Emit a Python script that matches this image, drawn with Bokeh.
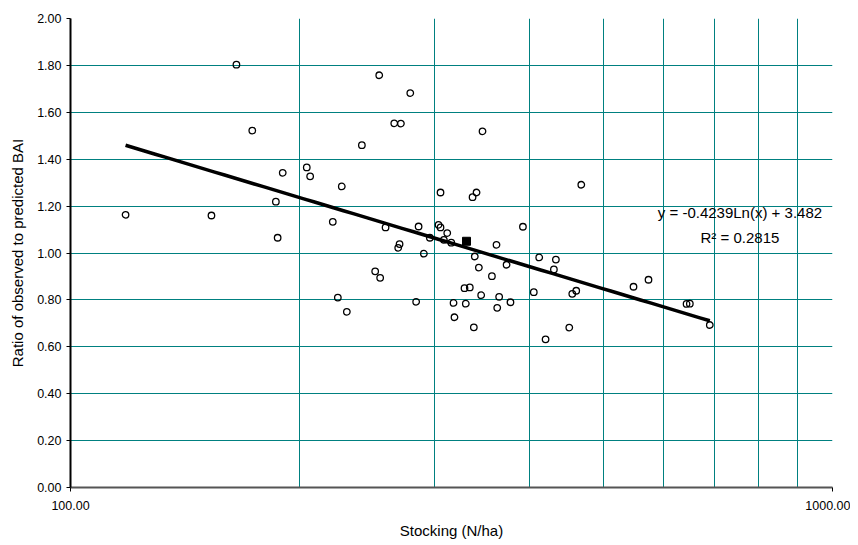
import numpy as np
from bokeh.plotting import figure
from bokeh.models import Range1d, FixedTicker, PrintfTickFormatter, Label, ColumnDataSource
from bokeh.embed import file_html
from bokeh.resources import INLINE

# ---- data ----
stocking = [118.1, 153.1, 165.1, 173.2, 186.0, 187.0, 189.9, 204.2, 206.3, 220.9,
            224.3, 227.0, 230.5, 241.2, 251.1, 254.2, 254.9, 259.1, 266.0, 269.2,
            270.3, 271.4, 279.2, 284.2, 286.3, 290.9, 296.2, 304.1, 305.9, 305.9,
            309.0, 312.2, 316.0, 318.2, 319.1, 328.9, 330.2, 334.2, 337.0, 338.3,
            339.3, 341.1, 343.5, 345.9, 347.3, 357.3, 362.3, 363.1, 365.2, 373.5,
            377.9, 392.4, 405.5, 412.2, 420.2, 430.9, 433.5, 451.4, 455.5, 461.0,
            468.1, 548.1, 573.5, 643.4, 649.8, 690.2]
ratio = [1.163, 1.160, 1.803, 1.522, 1.219, 1.065, 1.342, 1.365, 1.327, 1.133,
         0.810, 1.284, 0.749, 1.460, 0.922, 1.758, 0.894, 1.109, 1.553, 1.022,
         1.038, 1.552, 1.682, 0.792, 1.113, 0.997, 1.065, 1.120, 1.109, 1.258,
         1.056, 1.085, 1.044, 0.787, 0.726, 0.850, 0.784, 0.853, 1.238, 0.683,
         0.985, 1.258, 0.938, 0.820, 1.519, 0.901, 1.035, 0.766, 0.813, 0.950,
         0.790, 1.112, 0.833, 0.981, 0.632, 0.930, 0.972, 0.682, 0.826, 0.839,
         1.291, 0.856, 0.886, 0.783, 0.784, 0.693]
mean_stocking = [330.9]
mean_ratio = [1.050]

trend_slope = -0.4239
trend_intercept = 3.482
r_squared = 0.2815
eq_pos = (756.0, 1.174)
r2_pos = (756.0, 1.066)

x_tick_values = [100, 1000]
x_grid_values = [200, 300, 400, 500, 600, 700, 800, 900, 1000]
y_tick_values = [0.0, 0.2, 0.4, 0.6, 0.8, 1.0, 1.2, 1.4, 1.6, 1.8, 2.0]

FONT = "Liberation Sans"
TEAL = "#008080"

p = figure(width=850, height=544, x_axis_type="log",
           x_range=Range1d(100, 1000), y_range=Range1d(0, 2),
           output_backend="svg", toolbar_location=None,
           min_border_left=70, min_border_right=18,
           min_border_top=18, min_border_bottom=57)
p.outline_line_color = None
p.background_fill_color = "white"

# grids
p.xgrid.ticker = FixedTicker(ticks=x_grid_values)
p.ygrid.ticker = FixedTicker(ticks=y_tick_values)
for g in (p.xgrid, p.ygrid):
    g.grid_line_color = TEAL
    g.grid_line_width = 1
    g.grid_line_alpha = 1.0

# x axis
xa = p.xaxis[0]
xa.ticker = FixedTicker(ticks=x_tick_values, minor_ticks=[])
xa.formatter = PrintfTickFormatter(format="%.2f")
xa.axis_label = "Stocking (N/ha)"
xa.axis_line_color = "#555555"
xa.axis_line_width = 2
xa.major_tick_line_color = "black"
xa.major_tick_out = 4
xa.major_tick_in = 0
xa.minor_tick_line_color = None
xa.major_label_standoff = 9
xa.axis_label_standoff = 9

# y axis
ya = p.yaxis[0]
ya.ticker = FixedTicker(ticks=y_tick_values, minor_ticks=[])
ya.formatter = PrintfTickFormatter(format="%.2f")
ya.axis_label = "Ratio of observed to predicted BAI"
ya.axis_line_color = "black"
ya.axis_line_width = 2
ya.major_tick_line_color = "black"
ya.major_tick_out = 4
ya.major_tick_in = 0
ya.minor_tick_line_color = None
ya.major_label_standoff = 5
ya.axis_label_standoff = 8

for ax in (xa, ya):
    ax.major_label_text_font = FONT
    ax.major_label_text_font_size = "12.5px"
    ax.major_label_text_color = "black"
    ax.axis_label_text_font = FONT
    ax.axis_label_text_font_size = "15px"
    ax.axis_label_text_font_style = "normal"
    ax.axis_label_text_color = "black"

# scatter points
src = ColumnDataSource(dict(x=stocking, y=ratio))
p.scatter("x", "y", source=src, marker="circle", size=6.5,
          fill_color=None, line_color="black", line_width=1.3)

# trend line from fitted coefficients
xs = np.geomspace(min(stocking), max(stocking), 60)
ys = trend_slope * np.log(xs) + trend_intercept
p.line(xs, ys, line_color="black", line_width=3.5)

# mean point
p.scatter(mean_stocking, mean_ratio, marker="square", size=8,
          fill_color="black", line_color="black")

eq_text = f"y = {trend_slope:.4f}Ln(x) + {trend_intercept:.3f}"
r2_text = f"R\u00b2 = {r_squared:.4f}"
p.add_layout(Label(x=eq_pos[0], y=eq_pos[1], text=eq_text, text_align="center",
                   text_baseline="middle", text_font=FONT, text_font_size="15px",
                   text_color="black"))
p.add_layout(Label(x=r2_pos[0], y=r2_pos[1], text=r2_text, text_align="center",
                   text_baseline="middle", text_font=FONT, text_font_size="15px",
                   text_color="black"))

open("out.html", "w").write(file_html(p, INLINE))
